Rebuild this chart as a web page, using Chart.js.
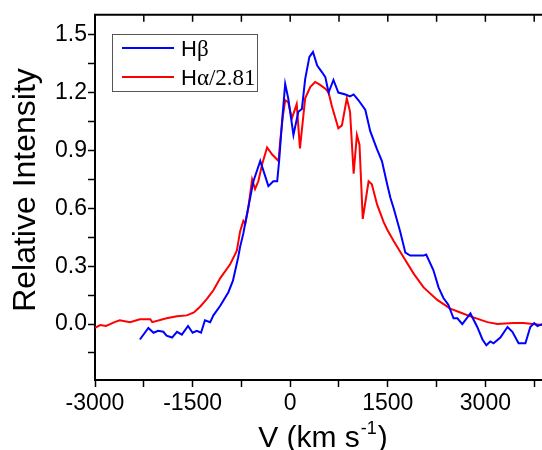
<!DOCTYPE html>
<html>
<head>
<meta charset="utf-8">
<script src="https://cdn.jsdelivr.net/npm/chart.js@4.4.1/dist/chart.umd.min.js"></script>
<style>
  html, body { margin: 0; padding: 0; background: #fff; overflow: hidden; }
  #wrap { width: 542px; height: 450px; }
</style>
</head>
<body>
<div id="wrap"><canvas id="theChart" width="542" height="450"></canvas></div>
<script>
// H-beta profile (velocity km/s, relative intensity)
const hbV = [-2310, -2180, -2100, -2030, -1950, -1900, -1815, -1740, -1665, -1570, -1500, -1435, -1370,
  -1310, -1230, -1180, -1075, -950, -880, -800, -770, -720, -690, -615, -565, -460, -335, -260, -200,
  -170, -125, -77, -30, 50, 125, 180, 230, 295, 350, 415, 490, 540, 590, 665, 740, 850, 920, 975,
  1050, 1155, 1230, 1335, 1410, 1490, 1540, 1590, 1690, 1770, 1845, 2050, 2090, 2200, 2280, 2355,
  2430, 2510, 2570, 2645, 2770, 2875, 2955, 3015, 3075, 3125, 3230, 3340, 3415, 3510, 3615, 3690,
  3750, 3800, 3877];
const hbI = [-0.08, -0.02, -0.045, -0.035, -0.04, -0.06, -0.07, -0.04, -0.055, -0.01, -0.045, -0.035, -0.045,
  0.02, 0.01, 0.045, 0.095, 0.165, 0.225, 0.345, 0.40, 0.47, 0.525, 0.655, 0.74, 0.845, 0.715, 0.74, 0.74,
  0.845, 1.05, 1.245, 1.17, 0.98, 1.10, 1.115, 1.27, 1.385, 1.41, 1.34, 1.305, 1.28, 1.20, 1.265, 1.20,
  1.19, 1.18, 1.19, 1.16, 1.11, 1.00, 0.905, 0.845, 0.725, 0.655, 0.60, 0.48, 0.37, 0.355, 0.355, 0.36,
  0.28, 0.19, 0.135, 0.10, 0.03, 0.03, 0.0, 0.055, -0.015, -0.08, -0.11, -0.09, -0.10, -0.07, -0.015,
  -0.04, -0.10, -0.10, -0.015, 0.005, -0.01, 0.0];

// H-alpha / 2.81 profile
const haV = [-3000, -2920, -2830, -2700, -2620, -2460, -2310, -2150, -2120, -1900, -1740, -1590, -1480,
  -1385, -1280, -1180, -1077, -923, -820, -770, -720, -690, -645, -585, -540, -490, -430, -355, -280,
  -180, -150, -110, -77, -30, 25, 100, 150, 230, 310, 385, 460, 540, 590, 640, 740, 795, 870, 920, 975,
  1025, 1065, 1115, 1205, 1255, 1335, 1435, 1490, 1590, 1745, 1900, 2050, 2260, 2460, 2615, 2770,
  3030, 3185, 3430, 3585, 3877];
const haI = [-0.02, -0.005, -0.01, 0.01, 0.02, 0.01, 0.025, 0.025, 0.01, 0.03, 0.04, 0.045, 0.06,
  0.09, 0.13, 0.175, 0.237, 0.31, 0.38, 0.48, 0.535, 0.52, 0.60, 0.75, 0.70, 0.74, 0.83, 0.915, 0.88,
  0.845, 0.96, 1.085, 1.16, 1.15, 1.065, 1.14, 0.91, 1.17, 1.23, 1.255, 1.24, 1.22, 1.20, 1.13, 1.015,
  1.03, 1.17, 1.10, 0.78, 0.98, 0.93, 0.545, 0.74, 0.725, 0.62, 0.53, 0.49, 0.43, 0.345, 0.26, 0.19,
  0.125, 0.08, 0.06, 0.04, 0.01, 0.0, 0.005, 0.005, -0.005];

const xMin = -3000, xMax = 3870, xStep = 750, xLabelStep = 1500;
const yMin = -0.29, yMax = 1.603, yStep = 0.15, yLabelStep = 0.3;

const seriesLabels = ["H", "H"];
const seriesSuffix = ["\u03B2", "\u03B1/2.81"];
const xTitle = ["V (km s", "-1", ")"];
const yTitle = "Relative Intensity";

const sans = '"Liberation Sans", Arial, sans-serif';
const serif = '"Liberation Serif", "Times New Roman", serif';

const toPoints = (xs, ys) => xs.map((x, i) => ({ x, y: ys[i] }));

// frame on top, titles and the boxed legend
const extras = {
  id: "extras",
  afterDraw(chart) {
    const ctx = chart.ctx;
    const a = chart.chartArea;
    const xs = chart.scales.x;
    ctx.save();
    ctx.strokeStyle = "#000";
    ctx.lineWidth = 2;
    ctx.beginPath();
    ctx.moveTo(a.left - 1, a.top);
    ctx.lineTo(a.right, a.top);
    ctx.stroke();
    ctx.lineWidth = 1.5;
    xs.ticks.forEach((t) => {
      const px = xs.getPixelForValue(t.value);
      ctx.beginPath();
      ctx.moveTo(px, a.top);
      ctx.lineTo(px, a.top + 7);
      ctx.stroke();
    });

    // y title
    ctx.fillStyle = "#000";
    ctx.font = "32px " + sans;
    ctx.textAlign = "center";
    ctx.textBaseline = "alphabetic";
    ctx.save();
    ctx.translate(35, 190);
    ctx.rotate(-Math.PI / 2);
    ctx.fillText(yTitle, 0, 0);
    ctx.restore();

    // x title with superscript
    ctx.textAlign = "left";
    ctx.font = "30px " + sans;
    const w1 = ctx.measureText(xTitle[0]).width;
    const w3 = ctx.measureText(xTitle[2]).width;
    ctx.font = "18px " + sans;
    const w2 = ctx.measureText(xTitle[1]).width;
    let x0 = 322 - (w1 + w2 + w3) / 2;
    const base = 447;
    ctx.font = "30px " + sans;
    ctx.fillText(xTitle[0], x0, base);
    ctx.font = "18px " + sans;
    ctx.fillText(xTitle[1], x0 + w1 + 1, base - 13);
    ctx.font = "30px " + sans;
    ctx.fillText(xTitle[2], x0 + w1 + w2 + 2, base);

    // legend
    ctx.strokeStyle = "#555";
    ctx.lineWidth = 1;
    ctx.strokeRect(112.5, 34.5, 145, 57);
    const rows = [48, 77];
    chart.data.datasets.forEach((ds, i) => {
      ctx.strokeStyle = ds.borderColor;
      ctx.lineWidth = 2;
      ctx.beginPath();
      ctx.moveTo(122, rows[i]);
      ctx.lineTo(174, rows[i]);
      ctx.stroke();
      ctx.font = "22px " + sans;
      ctx.fillStyle = "#000";
      ctx.fillText(seriesLabels[i], 181, rows[i] + 8);
      const hw = ctx.measureText(seriesLabels[i]).width;
      ctx.font = "23px " + serif;
      ctx.fillText(seriesSuffix[i], 181 + hw, rows[i] + 8);
    });
    ctx.restore();
  },
};

const chart = new Chart(document.getElementById("theChart"), {
  type: "line",
  data: {
    datasets: [
      { label: "Hb", data: toPoints(hbV, hbI), borderColor: "#0000ff", backgroundColor: "#0000ff" },
      { label: "Ha/2.81", data: toPoints(haV, haI), borderColor: "#ff0000", backgroundColor: "#ff0000" },
    ],
  },
  options: {
    responsive: false,
    animation: false,
    devicePixelRatio: 1,
    layout: { padding: { top: 12, right: 0, left: 0, bottom: 0 } },
    elements: { point: { radius: 0 }, line: { borderWidth: 2, tension: 0 } },
    plugins: { legend: { display: false }, tooltip: { enabled: false } },
    scales: {
      x: {
        type: "linear",
        min: xMin,
        max: xMax,
        afterBuildTicks: (s) => {
          const t = [];
          for (let v = xMin; v <= xMax; v += xStep) t.push({ value: v });
          s.ticks = t;
        },
        afterFit: (s) => { s.height = 70; },
        grid: { drawOnChartArea: false, tickLength: 7, tickWidth: 1.5, tickColor: "#000" },
        border: { color: "#000", width: 2 },
        ticks: {
          autoSkip: false,
          maxRotation: 0,
          padding: 3,
          color: "#000",
          font: { family: sans, size: 23 },
          callback: (v) => (v % xLabelStep === 0 ? String(v) : ""),
        },
      },
      y: {
        type: "linear",
        min: yMin,
        max: yMax,
        afterBuildTicks: (s) => {
          const t = [];
          for (let k = -1; k <= 10; k++) t.push({ value: +(k * yStep).toFixed(2) });
          s.ticks = t;
        },
        afterFit: (s) => { s.width = 95; },
        grid: { drawOnChartArea: false, tickLength: 7, tickWidth: 1.5, tickColor: "#000" },
        border: { color: "#000", width: 2 },
        ticks: {
          autoSkip: false,
          padding: 1,
          color: "#000",
          font: { family: sans, size: 23 },
          callback: (v) => {
            const k = Math.round(v / yStep);
            return k % 2 === 0 && k >= 0 ? v.toFixed(1) : "";
          },
        },
      },
    },
  },
  plugins: [extras],
});
</script>
</body>
</html>
